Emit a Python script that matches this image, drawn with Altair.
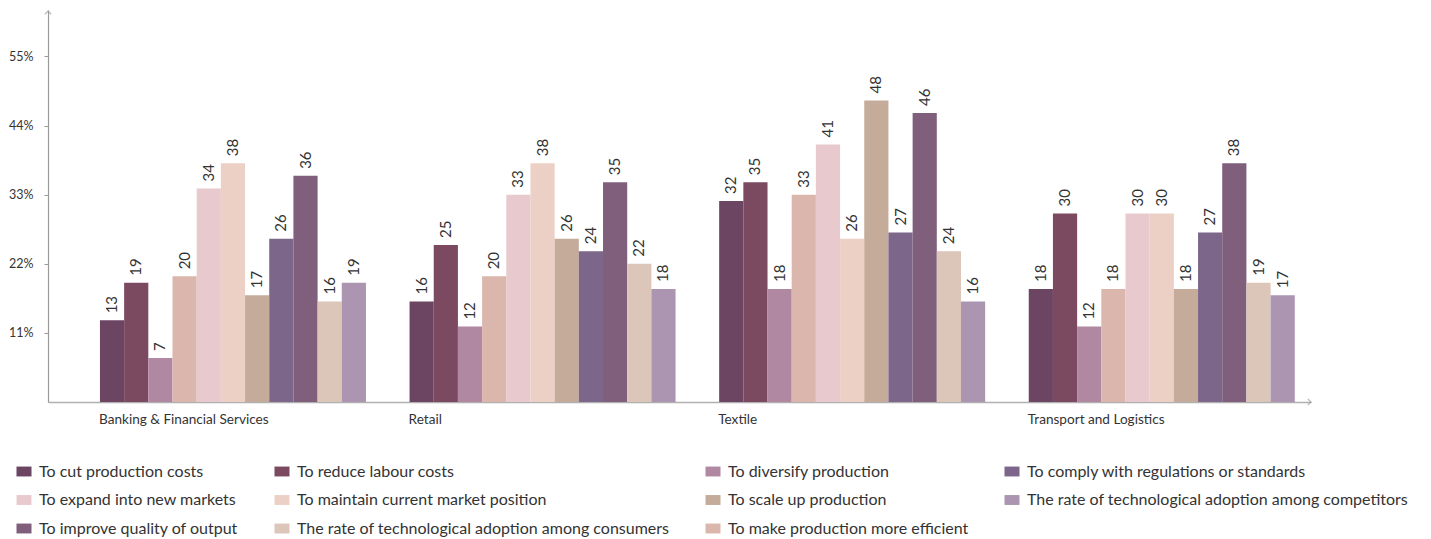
import altair as alt
import pandas as pd

sectors = ["Banking & Financial Services", "Retail", "Textile", "Transport and Logistics"]

# order of bars inside each sector group
bar_order = [
    "To cut production costs",
    "To reduce labour costs",
    "To diversify production",
    "To make production more efficient",
    "To expand into new markets",
    "To maintain current market position",
    "To scale up production",
    "To comply with regulations or standards",
    "To improve quality of output",
    "The rate of technological adoption among consumers",
    "The rate of technological adoption among competitors",
]

banking = [13, 19, 7, 20, 34, 38, 17, 26, 36, 16, 19]
retail = [16, 25, 12, 20, 33, 38, 26, 24, 35, 22, 18]
textile = [32, 35, 18, 33, 41, 26, 48, 27, 46, 24, 16]
transport = [18, 30, 12, 18, 30, 30, 18, 27, 38, 19, 17]

# legend entries in column-major order (legend fills columns first)
legend_order = [
    "To cut production costs",
    "To expand into new markets",
    "To improve quality of output",
    "To reduce labour costs",
    "To maintain current market position",
    "The rate of technological adoption among consumers",
    "To diversify production",
    "To scale up production",
    "To make production more efficient",
    "To comply with regulations or standards",
    "The rate of technological adoption among competitors",
]
legend_colors = [
    "#6b4562",
    "#e8cace",
    "#7f5f7b",
    "#7b4a60",
    "#ecd0c5",
    "#dcc5b9",
    "#b088a2",
    "#c5ab9a",
    "#dbb6ac",
    "#7c6689",
    "#ab95b0",
]

y_ticks = [11, 22, 33, 44, 55]

rows = []
for sector, vals in zip(sectors, [banking, retail, textile, transport]):
    for reason, v in zip(bar_order, vals):
        rows.append({"sector": sector, "reason": reason, "value": v})
df = pd.DataFrame(rows)

FONT = "Lato"
TXT = "#333333"

x_enc = alt.X(
    "sector:N",
    sort=sectors,
    scale=alt.Scale(paddingInner=0.1408, paddingOuter=0.1101, align=0.762),
    axis=alt.Axis(
        title=None,
        labelAlign="left",
        labelAngle=0,
        labelOffset=-134,
        ticks=False,
        domainColor="#b0b0b0",
        domainWidth=1.5,
        labelFont=FONT,
        labelFontSize=13.6,
        labelColor=TXT,
        labelPadding=10,
    ),
)
xo_enc = alt.XOffset("reason:N", sort=bar_order, scale=alt.Scale(paddingInner=0, paddingOuter=0))
y_enc = alt.Y(
    "value:Q",
    scale=alt.Scale(domain=[0, 62.4], nice=False, zero=True),
    axis=alt.Axis(
        title=None,
        values=y_ticks,
        labelExpr="datum.value + '%'",
        grid=False,
        tickSize=4,
        tickColor="#999999",
        domainColor="#999999",
        domainWidth=1.2,
        labelFont=FONT,
        labelFontSize=12.5,
        labelColor=TXT,
        labelPadding=11,
    ),
)

base = alt.Chart(df)

bars = base.mark_bar().encode(
    x=x_enc,
    xOffset=xo_enc,
    y=y_enc,
    color=alt.Color(
        "reason:N",
        scale=alt.Scale(domain=legend_order, range=legend_colors),
        legend=alt.Legend(
            title=None,
            orient="none",
            legendX=-32,
            legendY=453.5,
            columns=4,
            columnPadding=35,
            rowPadding=12.5,
            padding=0,
            symbolType="M-1,-0.66H1V0.66H-1Z",
            symbolSize=225,
            symbolStrokeWidth=0,
            symbolOpacity=1,
            labelFont=FONT,
            labelFontSize=16,
            labelColor=TXT,
            labelOffset=7,
            labelLimit=600,
        ),
    ),
)

labels = base.mark_text(
    angle=270, align="left", baseline="middle", dx=7, font=FONT, fontSize=15, color=TXT
).encode(
    x=alt.X("sector:N", sort=sectors),
    xOffset=alt.XOffset("reason:N", sort=bar_order),
    y=alt.Y("value:Q"),
    text=alt.Text("value:Q"),
)

arrow_df = pd.DataFrame({"k": [0]})
arrow_up = alt.Chart(arrow_df).mark_point(
    shape="M-1,0.7L0,-0.3L1,0.7", filled=False, stroke="#999999", strokeWidth=1.2, size=40
).encode(x=alt.value(0), y=alt.value(2))
arrow_right = alt.Chart(arrow_df).mark_point(
    shape="M-0.7,-1L0.3,0L-0.7,1", filled=False, stroke="#999999", strokeWidth=1.2, size=40
).encode(x=alt.value(1262), y=alt.value(392))

chart = (
    alt.layer(bars, labels, arrow_up, arrow_right)
    .properties(width=1263, height=392, padding={"left": 0, "top": 0, "right": 5, "bottom": 0})
    .configure_view(stroke=None)
)

chart.save("out.html", embed_options={"renderer": "svg", "actions": False})
